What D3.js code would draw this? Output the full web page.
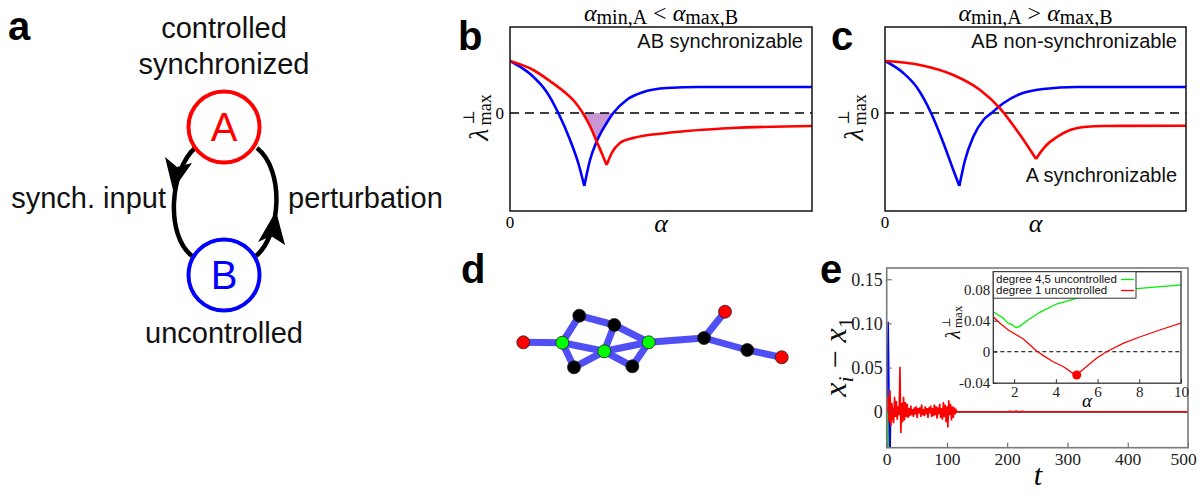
<!DOCTYPE html>
<html>
<head>
<meta charset="utf-8">
<script src="https://cdn.jsdelivr.net/npm/d3@7"></script>
<style>
  body { margin: 0; background: #fff; }
  svg { display: block; font-family: "Liberation Sans", Arial, sans-serif; }
</style>
</head>
<body>
<svg width="1200" height="494"></svg>
<script>
// ---- panel b: lambda_max vs alpha (arbitrary units) ----
const bBlue = [[0,0.52],[0.33,0.463],[0.77,0.363],[1.21,0.213],[1.60,0],[1.99,-0.27],[2.26,-0.50],[2.46,-0.73],
  [2.65,-0.47],[2.87,-0.285],[3.20,-0.10],[3.42,0],[3.86,0.13],[4.42,0.21],[5.19,0.25],[6.29,0.26],[10,0.26]];
const bRed = [[0,0.52],[0.77,0.43],[1.32,0.32],[1.88,0.19],[2.15,0.11],[2.41,0],[2.65,-0.13],[2.87,-0.285],
  [3.05,-0.41],[3.20,-0.52],[3.37,-0.40],[3.64,-0.30],[4.08,-0.25],[5.19,-0.20],[7.39,-0.15],[10,-0.13]];

// ---- panel c ----
const cBlue = [[0,0.52],[0.61,0.40],[1.05,0.26],[1.53,0],[1.94,-0.30],[2.27,-0.57],[2.47,-0.73],
  [2.66,-0.47],[2.93,-0.24],[3.27,-0.07],[3.54,0],[3.93,0.097],[4.49,0.19],[5.26,0.24],[6.37,0.26],[10,0.26]];
const cRed = [[0,0.52],[1.16,0.48],[2.27,0.38],[3.16,0.23],[3.82,0.047],[4.49,-0.22],[5.02,-0.46],
  [5.15,-0.40],[5.37,-0.32],[5.71,-0.24],[6.15,-0.17],[6.71,-0.137],[7.26,-0.13],[10,-0.127]];

// ---- panel d: network (layout units) ----
const nodes = [
  {id: "r1", x: 0, y: 0, c: "red"}, {id: "g1", x: 3.9, y: 0.04, c: "green"},
  {id: "k1", x: 5.6, y: -2.66, c: "black"}, {id: "k2", x: 9.1, y: -1.73, c: "black"},
  {id: "g2", x: 8.1, y: 0.9, c: "green"}, {id: "k3", x: 5.07, y: 2.5, c: "black"},
  {id: "k4", x: 10.9, y: 2.4, c: "black"}, {id: "g3", x: 12.54, y: 0, c: "green"},
  {id: "k5", x: 18.07, y: -0.43, c: "black"}, {id: "r2", x: 20.17, y: -3.06, c: "red"},
  {id: "k6", x: 22.4, y: 0.77, c: "black"}, {id: "r3", x: 25.84, y: 1.5, c: "red"}
];
const links = [["r1","g1"],["g1","k1"],["k1","k2"],["k2","g3"],["k2","g2"],["g1","g2"],["g1","k3"],
  ["k3","g2"],["g2","g3"],["g2","k4"],["k4","g3"],["g3","k5"],["k5","r2"],["k5","k6"],["k6","r3"]];

// ---- panel e: x_i - x_1 vs t ----
const redStart = 1, redStep = 1.5;
const redVals = [0,0.018,-0.012,0.024,-0.016,0.010,-0.008,-0.013,0.017,-0.006,0.012,-0.009,0.006,-0.004,
  0.051,-0.024,0.010,-0.012,0.017,-0.010,0.011,-0.006,0.009,-0.007,0.004,-0.005,0.007,-0.004,0.003,-0.006,
  0.005,-0.003,0.006,-0.007,0.004,-0.002,0.005,-0.006,0.008,-0.004,0.003,-0.005,0.006,-0.003,0.004,-0.007,
  0.005,-0.002,0.007,-0.006,0.004,-0.005,0.008,-0.004,0.006,-0.008,0.005,-0.003,0.009,-0.007,0.004,-0.009,
  0.011,-0.006,0.008,-0.012,0.006,-0.018,0.013,-0.004,0.009,-0.010,0.006,-0.007,0.005,-0.003,0.002,0];
const redTail = [[118,0],[200,0],[205,0.0005],[210,-0.0005],[215,0.0006],[220,-0.0005],[225,0.0004],[230,0],[500,0]];
const blueE = [[0,0],[1,0.03],[2.5,0.102],[3.5,0.04],[4.5,-0.02],[5.5,-0.06],[6.5,0.008],[7.5,-0.005],[9,0.006],
  [11,-0.004],[13,0.004],[16,-0.003],[19,0.003],[23,-0.002],[28,0.002],[34,-0.001],[40,0],[500,0]];
const greenE = [[0,0],[0.5,0.05],[1,-0.02],[1.5,-0.06],[2.5,0.01],[3.5,-0.005],[5,0.004],[7,-0.003],
  [10,0.002],[14,0],[500,0]];
const yellowE = [[0,0],[3,-0.05],[4.5,0.025],[5.5,-0.05],[7,0.003],[9,0],[500,0]];
const eXTicks = [0,100,200,300,400,500];
const eYTicks = [0,0.05,0.10,0.15];

// ---- panel e inset: lambda_max vs alpha ----
const insetGreen = [[1,0.0516],[1.48,0.0431],[1.72,0.0366],[1.88,0.0353],[2.09,0.031],[2.28,0.033],[2.60,0.0396],
  [3.23,0.0508],[4.03,0.0615],[5.15,0.070],[7.86,0.0813],[9.9,0.086],[10,0.0862]];
const insetRed = [[1,0.045],[1.32,0.0366],[1.72,0.028],[2.12,0.0215],[2.44,0.0164],[2.76,0.0086],[3.08,0.001],
  [3.40,-0.005],[3.87,-0.013],[4.35,-0.019],[4.75,-0.0266],[4.99,-0.030],[5.47,-0.019],[5.95,-0.0085],
  [6.43,0],[7.22,0.0108],[8.02,0.019],[8.98,0.028],[10,0.037]];
const insetDot = [5, -0.030];
const insetXTicks = [2,4,6,8,10];
const insetYTicks = [-0.04,0,0.04,0.08];
const legendItems = [["degree 4,5 uncontrolled", "#00ee00"], ["degree 1 uncontrolled", "#ff0000"]];

const svg = d3.select("svg");
const serif = "'Liberation Serif', 'DejaVu Serif', serif";

// panel letters
[["a", 8, 40], ["b", 458, 50], ["c", 831, 50], ["d", 461, 283], ["e", 820, 283]].forEach(([t, x, y]) => {
  svg.append("text").attr("x", x).attr("y", y).attr("font-size", 40).attr("font-weight", "bold").text(t);
});

// ---------- panel a ----------
const ga = svg.append("g");
[["controlled", 224, 38], ["synchronized", 224, 74], ["uncontrolled", 224, 343]].forEach(([t, x, y]) => {
  ga.append("text").attr("x", x).attr("y", y).attr("text-anchor", "middle").attr("font-size", 29).attr("fill", "#111").text(t);
});
ga.append("text").attr("x", 166).attr("y", 208).attr("text-anchor", "end").attr("font-size", 29).attr("fill", "#111").text("synch. input");
ga.append("text").attr("x", 288).attr("y", 208).attr("font-size", 29).attr("fill", "#111").text("perturbation");

ga.append("path").attr("d", "M195,148 C170,170 165,235 192,256").attr("fill", "none").attr("stroke", "#000").attr("stroke-width", 4.5);
ga.append("path").attr("d", "M256,256 C281,235 285,170 257,148").attr("fill", "none").attr("stroke", "#000").attr("stroke-width", 4.5);
ga.append("polygon").attr("points", "165,157 177,167 192,163 173,190").attr("fill", "#000");
ga.append("polygon").attr("points", "258,242 271,236 285,245 276,211").attr("fill", "#000");

[["A", 127, "#ff0000"], ["B", 275, "#0000ff"]].forEach(([t, cy, col]) => {
  ga.append("circle").attr("cx", 224).attr("cy", cy).attr("r", 35.5).attr("fill", "#fff").attr("stroke", col).attr("stroke-width", 4);
  ga.append("text").attr("x", 224).attr("y", cy + 14.3).attr("text-anchor", "middle").attr("font-size", 40).attr("fill", col).text(t);
});

// ---------- helpers ----------
function lambdaLabel(cx, cy, s) {
  const g = svg.append("g").attr("transform", `translate(${cx},${cy}) rotate(-90)`).style("font-family", serif).attr("fill", "#111");
  g.append("text").attr("x", -0.85 * s).attr("y", 0).attr("font-size", s).attr("font-style", "italic").text("λ");
  g.append("text").attr("x", -0.3 * s).attr("y", 0.12 * s).attr("font-size", 0.65 * s).text("max");
  g.append("text").attr("x", -0.28 * s).attr("y", -0.5 * s).attr("font-size", 0.55 * s).text("⊥");
}

function splitAtMin(data) {
  const i = d3.minIndex(data, d => d[1]);
  return [data.slice(0, i + 1), data.slice(i)];
}

function lambdaPanel(id, x0, x1, blue, red, title, texts, fill) {
  const x = d3.scaleLinear().domain([0, 10]).range([x0, x1]);
  const y = d3.scaleLinear().domain([-0.98, 0.86]).range([211, 27]);
  const line = d3.line().x(d => x(d[0])).y(d => y(d[1])).curve(d3.curveMonotoneX);
  const g = svg.append("g");
  g.append("clipPath").attr("id", id).append("rect").attr("x", x0).attr("y", 27).attr("width", x1 - x0).attr("height", 184);
  const plot = g.append("g").attr("clip-path", `url(#${id})`);

  if (fill) {
    const rs = red.filter(d => d[0] >= fill[0] && d[0] <= fill[1]);
    const bs = blue.filter(d => d[0] >= fill[1] && d[0] <= fill[2]);
    plot.append("path").attr("d", line(rs) + line(bs).replace(/^M/, "L") + "Z").attr("fill", "#c996d4");
  }
  plot.append("line").attr("x1", x0).attr("x2", x1).attr("y1", y(0)).attr("y2", y(0))
    .attr("stroke", "#000").attr("stroke-width", 1.5).attr("stroke-dasharray", "9,6");
  [[blue, "#0000ff"], [red, "#ff0000"]].forEach(([data, col]) => {
    splitAtMin(data).forEach(part => {
      plot.append("path").attr("d", line(part)).attr("fill", "none").attr("stroke", col).attr("stroke-width", 2.6);
    });
  });
  g.append("rect").attr("x", x0).attr("y", 27).attr("width", x1 - x0).attr("height", 184)
    .attr("fill", "none").attr("stroke", "#111").attr("stroke-width", 1.5);

  g.append("text").attr("x", x0 - 6).attr("y", y(0) + 6).attr("text-anchor", "end").style("font-family", serif).attr("font-size", 17).text("0");
  g.append("text").attr("x", x0).attr("y", 228).attr("text-anchor", "middle").style("font-family", serif).attr("font-size", 17).text("0");
  g.append("text").attr("x", (x0 + x1) / 2).attr("y", 232).attr("text-anchor", "middle").style("font-family", serif)
    .attr("font-size", 26).attr("font-style", "italic").text("α");

  const t = g.append("text").attr("x", (x0 + x1) / 2).attr("y", 21).attr("text-anchor", "middle").style("font-family", serif).attr("font-size", 24);
  t.append("tspan").attr("font-style", "italic").text("α");
  t.append("tspan").attr("font-size", 20).attr("dy", 3).text(title[0]);
  t.append("tspan").attr("dy", -3).text(" " + title[1] + " ");
  t.append("tspan").attr("font-style", "italic").text("α");
  t.append("tspan").attr("font-size", 20).attr("dy", 3).text(title[2]);

  texts.forEach(([s, yy]) => {
    g.append("text").attr("x", x1 - 9).attr("y", yy).attr("text-anchor", "end").attr("font-size", 20).attr("fill", "#111").text(s);
  });
  lambdaLabel(x0 - 22, 117, 28);
}

lambdaPanel("clipb", 510, 812, bBlue, bRed, ["min,A", "<", "max,B"], [["AB synchronizable", 48]], [2.41, 2.87, 3.42]);
lambdaPanel("clipc", 885, 1186, cBlue, cRed, ["min,A", ">", "max,B"], [["AB non-synchronizable", 48], ["A synchronizable", 182]], null);

// ---------- panel d ----------
const xd = d3.scaleLinear().domain([0, 10]).range([523.3, 623.3]);
const yd = d3.scaleLinear().domain([0, 10]).range([342.3, 442.3]);
const byId = new Map(nodes.map(n => [n.id, n]));
const gd = svg.append("g");
gd.selectAll("line").data(links).enter().append("line")
  .attr("x1", d => xd(byId.get(d[0]).x)).attr("y1", d => yd(byId.get(d[0]).y))
  .attr("x2", d => xd(byId.get(d[1]).x)).attr("y2", d => yd(byId.get(d[1]).y))
  .attr("stroke", "#4f4ff5").attr("stroke-width", 7);
const nodeColor = { red: "#ff0000", green: "#00ff00", black: "#000000" };
gd.selectAll("circle").data(nodes).enter().append("circle")
  .attr("cx", d => xd(d.x)).attr("cy", d => yd(d.y)).attr("r", 6.5)
  .attr("fill", d => nodeColor[d.c]).attr("stroke", "#222").attr("stroke-width", 0.8);

// ---------- panel e ----------
const xe = d3.scaleLinear().domain([0, 500]).range([886.7, 1188]);
const ye = d3.scaleLinear().domain([-0.0408, 0.1628]).range([447.7, 268]);
const ge = svg.append("g");
ge.append("clipPath").attr("id", "clipe").append("rect").attr("x", 886.7).attr("y", 268).attr("width", 1188 - 886.7).attr("height", 447.7 - 268);
const pe = ge.append("g").attr("clip-path", "url(#clipe)");
const lineE = d3.line().x(d => xe(d[0])).y(d => ye(d[1]));
const redE = redVals.map((v, i) => [redStart + i * redStep, v]).concat(redTail);
[[yellowE, "#e8e800"], [greenE, "#00ee00"], [blueE, "#0000ff"], [redE, "#ff0000"]].forEach(([data, col]) => {
  pe.append("path").attr("d", lineE(data)).attr("fill", "none").attr("stroke", col).attr("stroke-width", 1.6);
});

const axL = ge.append("g").attr("transform", "translate(886.7,0)")
  .call(d3.axisLeft(ye).tickValues(eYTicks).tickSizeInner(-5).tickSizeOuter(0).tickPadding(4)
    .tickFormat(d => d === 0 ? "0" : d3.format(".2f")(d)));
const axB = ge.append("g").attr("transform", "translate(0,447.7)")
  .call(d3.axisBottom(xe).tickValues(eXTicks).tickSizeInner(-5).tickSizeOuter(0).tickPadding(5));
[axL, axB].forEach(a => {
  a.select(".domain").remove();
  a.selectAll("line").attr("stroke", "#555");
  a.selectAll("text").style("font-family", serif).attr("font-size", 18).attr("fill", "#222");
});
axB.selectAll("text").attr("font-size", 17.5);
axB.selectAll("text").filter(d => d === 500).attr("dx", -5);
ge.append("rect").attr("x", 886.7).attr("y", 268).attr("width", 1188 - 886.7).attr("height", 447.7 - 268)
  .attr("fill", "none").attr("stroke", "#7a7a7a").attr("stroke-width", 1.6);

ge.append("text").attr("x", 1038).attr("y", 485).attr("text-anchor", "middle").style("font-family", serif)
  .attr("font-size", 30).attr("font-style", "italic").text("t");
const yl = ge.append("text").attr("transform", "translate(846,357) rotate(-90)").attr("text-anchor", "middle")
  .style("font-family", serif).attr("font-size", 32).attr("fill", "#111");
yl.append("tspan").attr("font-style", "italic").text("x");
yl.append("tspan").attr("font-style", "italic").attr("font-size", 22).attr("dy", 7).text("i");
yl.append("tspan").attr("dy", -7).text(" − ");
yl.append("tspan").attr("font-style", "italic").text("x");
yl.append("tspan").attr("font-size", 22).attr("dy", 7).text("1");

// inset
const xi = d3.scaleLinear().domain([1, 10]).range([993.3, 1181]);
const yi = d3.scaleLinear().domain([-0.0406, 0.1032]).range([383.2, 271.7]);
const gi = svg.append("g");
gi.append("rect").attr("x", 993.3).attr("y", 271.7).attr("width", 1181 - 993.3).attr("height", 383.2 - 271.7).attr("fill", "#fff");
gi.append("clipPath").attr("id", "clipi").append("rect").attr("x", 993.3).attr("y", 271.7).attr("width", 1181 - 993.3).attr("height", 383.2 - 271.7);
const pi = gi.append("g").attr("clip-path", "url(#clipi)");
pi.append("line").attr("x1", 993.3).attr("x2", 1181).attr("y1", yi(0)).attr("y2", yi(0))
  .attr("stroke", "#000").attr("stroke-width", 1).attr("stroke-dasharray", "4,3");
const lineI = d3.line().x(d => xi(d[0])).y(d => yi(d[1]));
pi.append("path").attr("d", lineI(insetGreen)).attr("fill", "none").attr("stroke", "#00ee00").attr("stroke-width", 1.3);
pi.append("path").attr("d", lineI(insetRed)).attr("fill", "none").attr("stroke", "#ff0000").attr("stroke-width", 1.3);
pi.append("circle").attr("cx", xi(insetDot[0])).attr("cy", yi(insetDot[1])).attr("r", 4.5).attr("fill", "#ff0000");

const iaL = gi.append("g").attr("transform", "translate(993.3,0)")
  .call(d3.axisLeft(yi).tickValues(insetYTicks).tickSizeInner(-4).tickSizeOuter(0).tickPadding(3)
    .tickFormat(d => d === 0 ? "0" : d3.format(".2f")(d).replace("−", "-")));
const iaB = gi.append("g").attr("transform", "translate(0,383.2)")
  .call(d3.axisBottom(xi).tickValues(insetXTicks).tickSizeInner(-4).tickSizeOuter(0).tickPadding(3));
[iaL, iaB].forEach(a => {
  a.select(".domain").remove();
  a.selectAll("line").attr("stroke", "#333");
  a.selectAll("text").style("font-family", serif).attr("font-size", 15).attr("fill", "#222");
});
gi.append("rect").attr("x", 993.3).attr("y", 271.7).attr("width", 1181 - 993.3).attr("height", 383.2 - 271.7)
  .attr("fill", "none").attr("stroke", "#333").attr("stroke-width", 1.3);

// legend
gi.append("rect").attr("x", 993.3).attr("y", 271.7).attr("width", 142.7).attr("height", 26.5)
  .attr("fill", "#fff").attr("stroke", "#333").attr("stroke-width", 1);
legendItems.forEach(([label, col], i) => {
  gi.append("text").attr("x", 996).attr("y", 282.5 + i * 11).attr("font-size", 11.5).attr("fill", "#111").text(label);
  gi.append("line").attr("x1", 1121).attr("x2", 1134).attr("y1", 279.5 + i * 11).attr("y2", 279.5 + i * 11)
    .attr("stroke", col).attr("stroke-width", 1.3);
});

gi.append("text").attr("x", 1087).attr("y", 407).attr("text-anchor", "middle").style("font-family", serif)
  .attr("font-size", 19).attr("font-style", "italic").text("α");
lambdaLabel(960, 322, 20);
</script>
</body>
</html>
